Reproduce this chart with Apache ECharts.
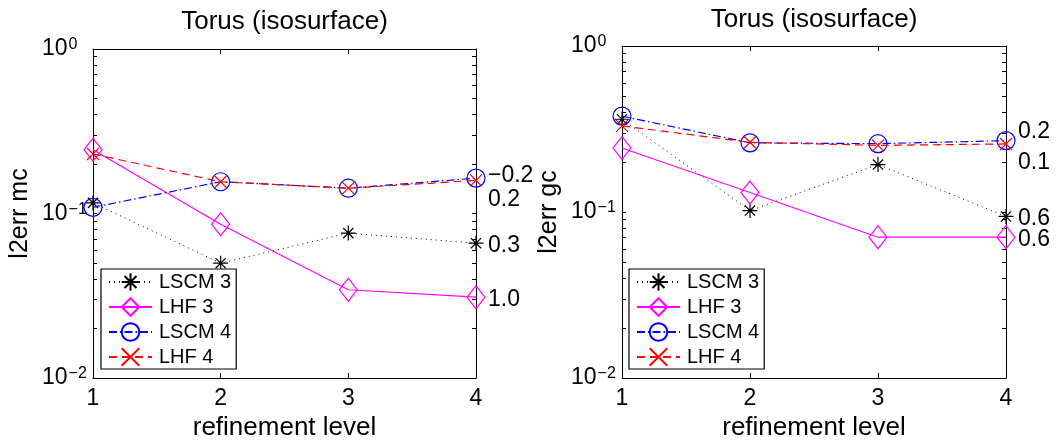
<!DOCTYPE html>
<html>
<head>
<meta charset="utf-8">
<script src="https://cdn.jsdelivr.net/npm/echarts@6/dist/echarts.min.js"></script>
<style>
html,body{margin:0;padding:0;background:#fff;}
#c{width:1058px;height:441px;}
</style>
</head>
<body>
<div id="c"></div>
<script>
// ---- data ----
const levels = [1, 2, 3, 4];
const seriesNames = ['LSCM 3', 'LHF 3', 'LSCM 4', 'LHF 4'];
// left panel: l2err mc
const mcLSCM3 = [0.116, 0.0499, 0.076, 0.066];
const mcLHF3  = [0.244, 0.086, 0.0344, 0.031];
const mcLSCM4 = [0.109, 0.156, 0.1425, 0.164];
const mcLHF4  = [0.230, 0.156, 0.1425, 0.159];
const mcNotes = ['0.3', '1.0', '\u22120.2', '0.2'];
// right panel: l2err gc
const gcLSCM3 = [0.362, 0.102, 0.193, 0.094];
const gcLHF3  = [0.243, 0.131, 0.0705, 0.0705];
const gcLSCM4 = [0.378, 0.261, 0.258, 0.269];
const gcLHF4  = [0.330, 0.263, 0.252, 0.257];
const gcNotes = ['0.6', '0.6', '0.2', '0.1'];
// axis ticks
const yMajor = [0.01, 0.1, 1];
const yTicks = [0.01,0.02,0.03,0.04,0.05,0.06,0.07,0.08,0.09,0.1,0.2,0.3,0.4,0.5,0.6,0.7,0.8,0.9,1];
const titleText = 'Torus (isosurface)';
const xName = 'refinement level';
const yNames = ['l2err mc', 'l2err gc'];

const FONT = '"Liberation Sans", Arial, Helvetica, sans-serif';
const ASTERISK = 'path://M5,0L5,10M0,5L10,5M1.6,1.6L8.4,8.4M8.4,1.6L1.6,8.4';
const CROSS = 'path://M0,0L10,10M10,0L0,10';

const styles = [
  {color:'#000000', symbol:ASTERISK, size:15, type:[1,4], width:1},
  {color:'#ff00ff', symbol:'diamond', size:[18,23], type:'solid', width:1.2},
  {color:'#0000ff', symbol:'circle', size:18, type:[8,3,1.5,3], width:1.2},
  {color:'#ff0000', symbol:CROSS, size:12, type:[8,5], width:1.2}
];
// label vertical shifts (style only)
const noteShift = [[2,2,-3,19],[2,2,-9,19]];

function mkSeries(gi, arrs, notes) {
  return arrs.map((arr, k) => {
    const st = styles[k];
    return {
      name: seriesNames[k],
      type: 'line',
      xAxisIndex: gi*2,
      yAxisIndex: gi*2,
      data: levels.map((x, i) => [x, arr[i]]),
      symbol: st.symbol,
      symbolSize: st.size,
      showAllSymbol: true,
      z: 2 + k,
      lineStyle: {color: st.color, width: st.width, type: st.type},
      itemStyle: {color: 'rgba(0,0,0,0)', borderColor: st.color, borderWidth: 1.2},
      emphasis: {disabled: true},
      endLabel: {
        show: true,
        formatter: () => notes[k],
        distance: 12,
        offset: [0, noteShift[gi][k]],
        fontSize: 23,
        fontFamily: FONT,
        color: '#000'
      },
      clip: false
    };
  });
}

function xAxes(gi) {
  const base = {
    type: 'value', gridIndex: gi, min: 1, max: 4, interval: 1,
    axisLine: {show: true, onZero: false, lineStyle: {color: '#000', width: 1}},
    axisTick: {show: true, inside: true, length: 5, lineStyle: {color: '#000'}},
    splitLine: {show: false}
  };
  return [
    Object.assign({}, base, {
      position: 'bottom',
      axisLabel: {fontSize: 23, color: '#000', margin: 9, fontFamily: FONT},
      name: xName, nameLocation: 'middle', nameGap: 34,
      nameTextStyle: {fontSize: 26, color: '#000', fontFamily: FONT}
    }),
    Object.assign({}, base, {position: 'top', axisLabel: {show: false}})
  ];
}

function yAxes(gi) {
  const base = {
    type: 'log', logBase: 10, gridIndex: gi, min: 0.01, max: 1,
    axisLine: {show: true, onZero: false, lineStyle: {color: '#000', width: 1}},
    axisTick: {show: true, inside: true, length: 4, customValues: yTicks, lineStyle: {color: '#000'}},
    splitLine: {show: false},
    minorTick: {show: false}
  };
  return [
    Object.assign({}, base, {
      position: 'left',
      axisLabel: {
        customValues: yMajor,
        align: 'left', margin: 51,
        formatter: (v) => {
          const e = Math.round(Math.log10(v));
          return '{b|10}{s|' + (e < 0 ? '\u2212' + (-e) : e) + '}';
        },
        rich: {
          b: {fontSize: 23, lineHeight: 24, padding: [6,0,6,0], color: '#000', fontFamily: FONT},
          s: {fontSize: 16, lineHeight: 16, verticalAlign: 'top', color: '#000', fontFamily: FONT, padding: [0,0,0,1]}
        }
      },
      name: yNames[gi], nameLocation: 'middle', nameGap: 60, nameRotate: 90,
      nameTextStyle: {fontSize: 25, color: '#000', fontFamily: FONT}
    }),
    Object.assign({}, base, {position: 'right', axisLabel: {show: false}})
  ];
}

function legend(left) {
  return {
    data: seriesNames,
    orient: 'vertical',
    left: left, top: 269,
    itemWidth: 43, itemHeight: 22, itemGap: 5,
    padding: [3, 5, 2, 7],
    backgroundColor: '#fff',
    borderColor: '#000', borderWidth: 1.2,
    textStyle: {fontSize: 20, color: '#000', fontFamily: FONT, padding: [0,0,0,2]},
    selectedMode: false
  };
}

const chart = echarts.init(document.getElementById('c'), null, {renderer: 'canvas'});
chart.setOption({
  animation: false,
  backgroundColor: '#fff',
  textStyle: {fontFamily: FONT},
  title: [
    {text: titleText, left: 284.5, top: 9, textAlign: 'center', padding: 0,
     textStyle: {fontSize: 26, fontWeight: 'normal', color: '#000', fontFamily: FONT}},
    {text: titleText, left: 814, top: 7, textAlign: 'center', padding: 0,
     textStyle: {fontSize: 26, fontWeight: 'normal', color: '#000', fontFamily: FONT}}
  ],
  grid: [
    {left: 93, right: 582, top: 49, bottom: 63, containLabel: false, outerBoundsMode: 'none'},
    {left: 622, right: 52, top: 46, bottom: 63, containLabel: false, outerBoundsMode: 'none'}
  ],
  legend: [legend(101), legend(629)],
  xAxis: xAxes(0).concat(xAxes(1)),
  yAxis: yAxes(0).concat(yAxes(1)),
  series: mkSeries(0, [mcLSCM3, mcLHF3, mcLSCM4, mcLHF4], mcNotes)
    .concat(mkSeries(1, [gcLSCM3, gcLHF3, gcLSCM4, gcLHF4], gcNotes))
});
</script>
</body>
</html>
